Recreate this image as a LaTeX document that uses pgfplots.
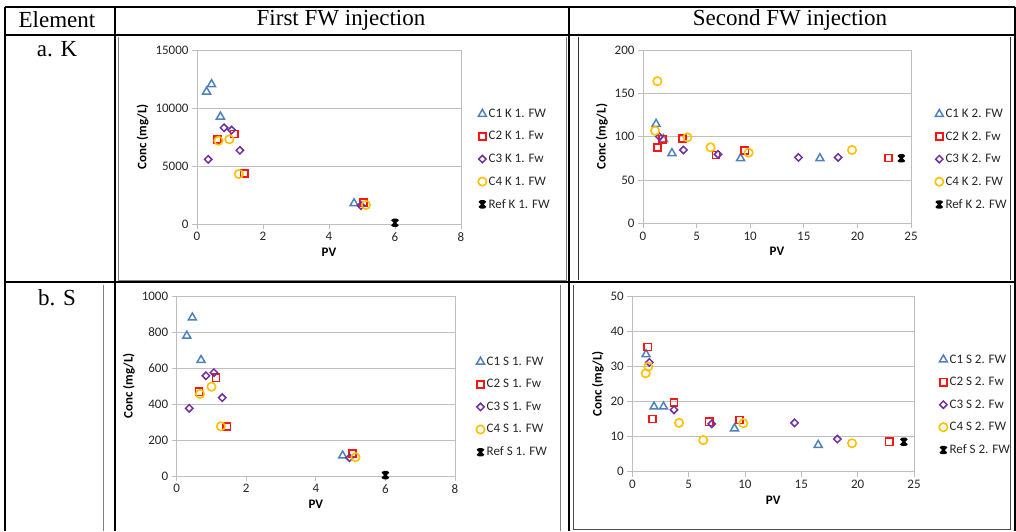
\documentclass[border=0pt]{standalone}
\usepackage{fontspec}
\setmainfont{Liberation Serif}
\newfontfamily\xlfont{Carlito}
\usepackage{pgfplots}
\pgfplotsset{compat=1.18}

\definecolor{cblue}{RGB}{79,129,189}
\definecolor{cred}{RGB}{255,20,20}
\definecolor{cpurple}{RGB}{112,48,160}
\definecolor{corange}{RGB}{255,192,0}
\definecolor{gridgray}{RGB}{190,190,190}

% excel style star marker
\pgfdeclareplotmark{xlstar}{%
  \pgfpathmoveto{\pgfqpoint{-\pgfplotmarksize}{-\pgfplotmarksize}}%
  \pgfpathlineto{\pgfqpoint{\pgfplotmarksize}{\pgfplotmarksize}}%
  \pgfpathmoveto{\pgfqpoint{-\pgfplotmarksize}{\pgfplotmarksize}}%
  \pgfpathlineto{\pgfqpoint{\pgfplotmarksize}{-\pgfplotmarksize}}%
  \pgfpathmoveto{\pgfqpoint{0pt}{-\pgfplotmarksize}}%
  \pgfpathlineto{\pgfqpoint{0pt}{\pgfplotmarksize}}%
  \pgfpathmoveto{\pgfqpoint{-0.6\pgfplotmarksize}{\pgfplotmarksize}}%
  \pgfpathlineto{\pgfqpoint{0.6\pgfplotmarksize}{\pgfplotmarksize}}%
  \pgfpathmoveto{\pgfqpoint{-0.6\pgfplotmarksize}{-\pgfplotmarksize}}%
  \pgfpathlineto{\pgfqpoint{0.6\pgfplotmarksize}{-\pgfplotmarksize}}%
  \pgfusepathqstroke}

\pgfplotsset{
  xlchart/.style={
    scale only axis,
    xmin=0, ymin=0,
    axis line style={gridgray, line width=0.8pt},
    tick style={gridgray, line width=0.8pt},
    tick align=outside, xtick pos=left, ytick pos=left,
    major tick length=5pt,
    ymajorgrids, grid style={gridgray, line width=0.8pt},
    /pgf/number format/assume math mode=true,
    scaled y ticks=false,
    yticklabel style={/pgf/number format/fixed, /pgf/number format/1000 sep={}},
    tick label style={font=\xlfont\fontsize{13}{15}\selectfont, text=black!85},
    label style={font=\xlfont\bfseries\fontsize{13}{15}\selectfont},
    xlabel=PV, ylabel={Conc (mg/L)},
    legend cell align=left,
    legend style={draw=none, fill=none, anchor=north west, row sep=8.6pt,
      font=\xlfont\fontsize{13}{15}\selectfont, text=black!85,
      /tikz/every odd column/.append style={inner xsep=1pt}},
  },
  s1/.style={only marks, mark=triangle, mark size=4.6pt, color=cblue, line width=1.5pt},
  s2/.style={only marks, mark=square, mark size=3.6pt, color=cred, line width=1.6pt},
  s3/.style={only marks, mark=square, mark size=2.6pt, mark options={rotate=45}, color=cpurple, line width=1.5pt},
  s4/.style={only marks, mark=o, mark size=4.2pt, color=corange, line width=1.6pt},
  s5/.style={only marks, mark=xlstar, mark size=3.2pt, color=black, line width=1.9pt},
}

\begin{document}
\begin{tikzpicture}[x=1pt,y=1pt]

% table frame (y = 531 - pixel row)
\begin{scope}[line width=1.8pt]
\draw (5,524) -- (1015,524);
\draw (5,496) -- (1015,496);
\draw (5,249) -- (1015,249);
\draw (5,524) -- (5,0);
\draw (115,524) -- (115,0);
\draw (569,524) -- (569,0);
\draw (1015,524) -- (1015,0);
\end{scope}
% frames of the pasted charts
\draw[gray, line width=0.9pt] (118,494) -- (118,251) -- (566,251) -- (566,494);
\draw[black!80, line width=0.9pt] (578,494) -- (578,251) (1010,251) -- (1010,494);
\draw[gray, line width=0.9pt] (103,246) -- (103,0) (560,246) -- (560,0);
\draw[black!70, line width=0.9pt] (573,246) -- (573,2) -- (1010,2) -- (1010,246);

\node[font=\fontsize{23}{26}\selectfont] at (57,511) {Element};
\node[font=\fontsize{23}{26}\selectfont] at (341,511) {First FW injection};
\node[font=\fontsize{23}{26}\selectfont] at (790,511) {Second FW injection};
\node[font=\fontsize{23}{26}\selectfont] at (57,482) {a. K};
\node[font=\fontsize{23}{26}\selectfont] at (57,233) {b. S};

% a. K, first FW
\begin{axis}[xlchart, at={(197pt,307pt)}, anchor=south west, width=264pt, height=174pt,
  xmax=8, ymax=15000, xtick={0,2,4,6,8}, ytick={0,5000,10000,15000},
  legend style={at={(1.053,0.685)}}]
\addplot[s1] coordinates {(0.29,11400) (0.44,12040) (0.71,9250) (4.76,1780)};
\addplot[s2] coordinates {(0.62,7300) (1.13,7760) (1.43,4370) (5.05,1870)};
\addplot[s3] coordinates {(0.34,5570) (0.82,8300) (1.05,8100) (1.30,6350) (4.97,1580)};
\addplot[s4] coordinates {(0.65,7180) (0.98,7300) (1.27,4310) (5.12,1640)};
\addplot[s5] coordinates {(6.0,100)};
\legend{C1 K 1. FW, C2 K 1. Fw, C3 K 1. Fw, C4 K 1. FW, Ref K 1. FW}
\end{axis}

% a. K, second FW
\begin{axis}[xlchart, at={(643pt,307.7pt)}, anchor=south west, width=268pt, height=173.3pt,
  xmax=25, ymax=200, xtick={0,5,10,15,20,25}, ytick={0,50,100,150,200},
  legend style={at={(1.078,0.683)}}]
\addplot[s1] coordinates {(1.22,114.6) (1.9,97) (2.7,80.8) (9.1,75) (16.5,75)};
\addplot[s2] coordinates {(1.34,87.3) (1.8,97) (3.7,98) (6.8,78.8) (9.5,83.8) (22.9,75.4)};
\addplot[s3] coordinates {(1.53,100) (3.77,84.6) (7.0,79.6) (14.5,76) (18.2,76)};
\addplot[s4] coordinates {(1.34,164) (1.12,106.8) (4.14,99.2) (6.3,87.7) (9.85,81.5) (19.5,84.6)};
\addplot[s5] coordinates {(24.1,75)};
\legend{C1 K 2. FW, C2 K 2. Fw, C3 K 2. Fw, C4 K 2. FW, Ref K 2. FW}
\end{axis}

% b. S, first FW
\begin{axis}[xlchart, at={(176.7pt,55pt)}, anchor=south west, width=278.3pt, height=180pt,
  xmax=8, ymax=1000, xtick={0,2,4,6,8}, ytick={0,200,400,600,800,1000},
  legend style={at={(1.065,0.685)}}]
\addplot[s1] coordinates {(0.29,779) (0.45,880) (0.70,644) (4.77,113)};
\addplot[s2] coordinates {(0.64,468) (1.13,546) (1.44,276) (5.05,126)};
\addplot[s3] coordinates {(0.36,376) (0.84,557) (1.07,574) (1.31,435) (4.97,102)};
\addplot[s4] coordinates {(0.67,456) (1.0,496) (1.27,276) (5.14,104)};
\addplot[s5] coordinates {(6.0,5)};
\legend{C1 S 1. FW, C2 S 1. Fw, C3 S 1. Fw, C4 S 1. FW, Ref S 1. FW}
\end{axis}

% b. S, second FW
\begin{axis}[xlchart, at={(632.3pt,59.3pt)}, anchor=south west, width=281.7pt, height=175.7pt,
  xmax=25, ymax=50, xtick={0,5,10,15,20,25}, ytick={0,10,20,30,40,50},
  legend style={at={(1.078,0.69)}}]
\addplot[s1] coordinates {(1.22,33.4) (1.93,18.5) (2.77,18.5) (9.07,12.3) (16.5,7.6)};
\addplot[s2] coordinates {(1.37,35.5) (1.78,15) (3.7,19.7) (6.82,14.2) (9.5,14.7) (22.8,8.5)};
\addplot[s3] coordinates {(1.51,31.1) (3.7,17.6) (7.05,13.6) (14.4,13.9) (18.2,9.3)};
\addplot[s4] coordinates {(1.19,28) (1.42,29.9) (4.15,13.9) (6.3,9) (9.85,13.8) (19.5,8.1)};
\addplot[s5] coordinates {(24.1,8.5)};
\legend{C1 S 2. FW, C2 S 2. Fw, C3 S 2. Fw, C4 S 2. FW, Ref S 2. FW}
\end{axis}

\pgfresetboundingbox
\path (0,0) rectangle (1016,531);
\end{tikzpicture}
\end{document}
